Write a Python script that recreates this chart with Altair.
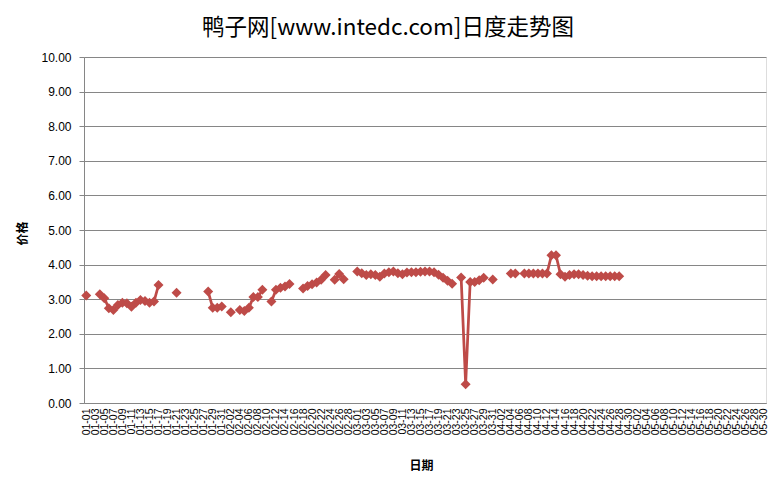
import datetime
import altair as alt
import pandas as pd

# ---- categories: every day from 01-01 to 05-30 (leap year: Feb has 29 days) ----
start = datetime.date(2024, 1, 1)
all_dates = [(start + datetime.timedelta(days=i)).strftime("%m-%d") for i in range(151)]
tick_dates = all_dates[::2]

# ---- observed points (date, price) ----
obs_dates = [
    "01-01", "01-04", "01-05", "01-06", "01-07", "01-08", "01-09", "01-10", "01-11",
    "01-12", "01-13", "01-14", "01-15", "01-16", "01-17", "01-21",
    "01-28", "01-29", "01-30", "01-31", "02-02", "02-04", "02-05", "02-06", "02-07",
    "02-08", "02-09", "02-11", "02-12", "02-13", "02-14", "02-15", "02-18", "02-19",
    "02-20", "02-21", "02-22", "02-23", "02-25", "02-26", "02-27",
    "03-01", "03-02", "03-03", "03-04", "03-05", "03-06", "03-07", "03-08", "03-09",
    "03-10", "03-11", "03-12", "03-13", "03-14", "03-15", "03-16", "03-17", "03-18",
    "03-19", "03-20", "03-21", "03-22", "03-24", "03-25", "03-26", "03-27", "03-28",
    "03-29", "03-31",
    "04-04", "04-05", "04-07", "04-08", "04-09", "04-10", "04-11", "04-12", "04-13",
    "04-14", "04-15", "04-16", "04-17", "04-18", "04-19", "04-20", "04-21", "04-22",
    "04-23", "04-24", "04-25", "04-26", "04-27", "04-28",
]
obs_prices = [
    3.11, 3.14, 3.03, 2.74, 2.69, 2.83, 2.90, 2.88, 2.78,
    2.90, 2.98, 2.95, 2.90, 2.93, 3.41, 3.19,
    3.22, 2.75, 2.75, 2.79, 2.62, 2.69, 2.66, 2.75, 3.06,
    3.06, 3.27, 2.93, 3.27, 3.33, 3.37, 3.44, 3.31, 3.38,
    3.43, 3.48, 3.56, 3.70, 3.56, 3.73, 3.58,
    3.80, 3.75, 3.70, 3.72, 3.70, 3.65, 3.74, 3.78, 3.80,
    3.75, 3.72, 3.77, 3.78, 3.78, 3.79, 3.80, 3.80, 3.78,
    3.71, 3.62, 3.53, 3.45, 3.63, 0.54, 3.50, 3.50, 3.55,
    3.62, 3.57,
    3.74, 3.74, 3.74, 3.74, 3.74, 3.74, 3.74, 3.74, 4.27,
    4.27, 3.72, 3.65, 3.70, 3.72, 3.72, 3.70, 3.68, 3.66,
    3.66, 3.66, 3.66, 3.66, 3.66, 3.66,
]

# segment id: consecutive days share a segment (line breaks at missing days)
idx = [all_dates.index(d) for d in obs_dates]
seg = []
s = 0
for k, i in enumerate(idx):
    if k > 0 and i != idx[k - 1] + 1:
        s += 1
    seg.append(s)

df = pd.DataFrame({"date": obs_dates, "price": obs_prices, "seg": seg})

RED = "#BE4B48"
GRID = "#868686"

x = alt.X(
    "date:O",
    scale=alt.Scale(type="point", domain=all_dates, padding=0.5),
    axis=alt.Axis(
        values=tick_dates,
        labelAngle=270,
        labelAlign="right",
        labelBaseline="middle",
        labelFont="Liberation Sans",
        labelFontSize=10.5,
        labelColor="#000000",
        labelPadding=5,
        ticks=False,
        domainColor=GRID,
        domainWidth=1,
        title="日期",
        titleFont="Noto Sans CJK SC",
        titleFontSize=12,
        titleFontWeight="bold",
        titleColor="#000000",
        titleX=337,
        titleY=62,
        titleBaseline="middle",
        titleAlign="center",
        grid=False,
    ),
)
y = alt.Y(
    "price:Q",
    scale=alt.Scale(domain=[0, 10], nice=False, zero=True),
    axis=alt.Axis(
        values=[0, 1, 2, 3, 4, 5, 6, 7, 8, 9, 10],
        format=".2f",
        labelFont="Liberation Sans",
        labelFontSize=12,
        labelColor="#000000",
        labelPadding=8,
        tickSize=5,
        tickColor=GRID,
        domainColor=GRID,
        grid=True,
        gridColor=GRID,
        gridWidth=1,
        gridOpacity=1,
        title="价格",
        titleFont="Noto Sans CJK SC",
        titleFontSize=12,
        titleFontWeight="bold",
        titleColor="#000000",
        titleX=-62,
        titleY=176,
        titleAngle=270,
        titleBaseline="middle",
        titleAlign="center",
    ),
)

line = alt.Chart(df).mark_line(color=RED, strokeWidth=2.75).encode(x=x, y=y, detail="seg:N")
pts = alt.Chart(df).mark_point(
    shape="diamond", filled=True, size=100, color=RED, opacity=1
).encode(x=x, y=y)

chart = (
    alt.layer(line, pts)
    .properties(
        width=682,
        height=346,
        autosize=alt.AutoSizeParams(type="none"),
        padding={"left": 76, "top": 49, "right": 6, "bottom": 78},
        title=alt.TitleParams(
            text="鸭子网[www.intedc.com]日度走势图",
            font="Noto Sans CJK SC",
            fontSize=22.5,
            fontWeight="normal",
            color="#000000",
            anchor="middle",
            frame="group",
            dx=-37,
            offset=-6,
            baseline="alphabetic",
        ),
    )
    .configure_view(stroke=None)
    .configure(background="white")
)

chart.save("out.html", embed_options={"renderer": "svg", "actions": False})
